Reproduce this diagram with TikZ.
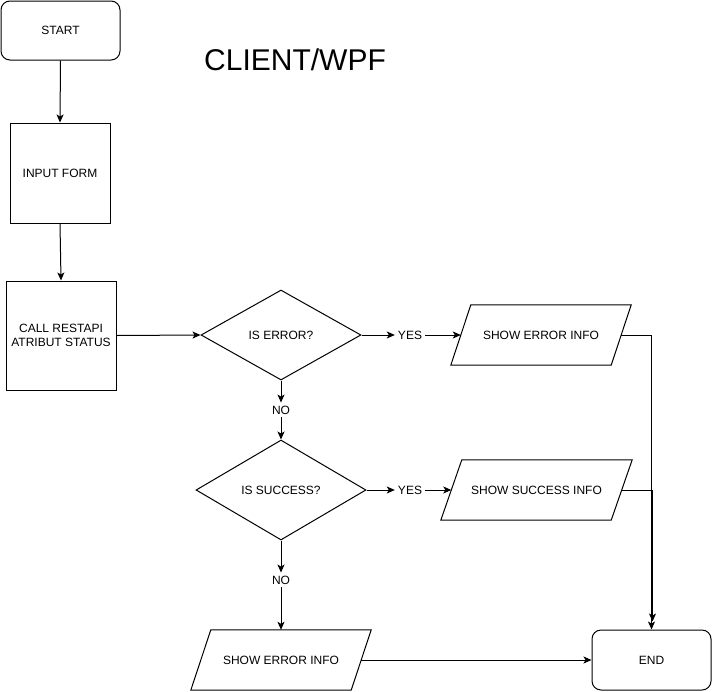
\documentclass[tikz,border=0pt]{standalone}
\usepackage{fontspec}
\setmainfont{Liberation Sans}
\usetikzlibrary{shapes.geometric,arrows.meta,calc}
\begin{document}
\begin{tikzpicture}[x=1pt,y=-1pt,
  every node/.style={font=\fontsize{12}{14}\selectfont, align=center, inner sep=0pt},
  line/.style={line width=1pt, black},
  arr/.style={line, -{Stealth[length=8pt,width=7pt,inset=2pt]}},
  term/.style={draw, line width=1pt, rounded corners=9pt, minimum width=119pt, minimum height=59pt},
  proc/.style={draw, line width=1pt},
  dec/.style={draw, line width=1pt, diamond},
  io/.style={minimum height=60pt},
  lbl/.style={inner sep=3pt}
]
\useasboundingbox (0,0) rectangle (712,691);
\fill[white] (0,0) rectangle (712,691);

\node[term] (start) at (60.5,30.5) {START};
\node[font=\fontsize{30}{34}\selectfont] (title) at (295,60) {CLIENT/WPF};
\node[proc, minimum width=100pt, minimum height=100pt] (input) at (60,173) {INPUT FORM};
\node[proc, minimum width=110pt, minimum height=109pt] (call) at (61,335.5) {CALL RESTAPI\\ATRIBUT STATUS};
\node[dec, minimum width=160pt, minimum height=90pt, aspect=1.78] (err) at (281,335) {IS ERROR?};
\node[dec, minimum width=170pt, minimum height=100pt, aspect=1.7] (suc) at (281,490) {IS SUCCESS?};

\node[lbl] (yes1) at (410,335) {YES};
\node[lbl] (yes2) at (410,490) {YES};
\node[lbl] (no1) at (281,410) {NO};
\node[lbl] (no2) at (281,580) {NO};

\node[io, minimum width=160pt] (showerr) at (541,335) {SHOW ERROR INFO};
\draw[line] ($(showerr.north west)+(10,0)$) -- ($(showerr.north east)+(10,0)$) -- ($(showerr.south east)+(-10,0)$) -- ($(showerr.south west)+(-10,0)$) -- cycle;
\node[io, minimum width=170pt] (showsuc) at (536.5,490) {SHOW SUCCESS INFO};
\draw[line] ($(showsuc.north west)+(10.5,0)$) -- ($(showsuc.north east)+(10.5,0)$) -- ($(showsuc.south east)+(-10.5,0)$) -- ($(showsuc.south west)+(-10.5,0)$) -- cycle;
\node[io, minimum width=160pt] (showerr2) at (281,660) {SHOW ERROR INFO};
\draw[line] ($(showerr2.north west)+(10,0)$) -- ($(showerr2.north east)+(10,0)$) -- ($(showerr2.south east)+(-10,0)$) -- ($(showerr2.south west)+(-10,0)$) -- cycle;

\node[term, minimum height=60pt] (end) at (651.5,660) {END};

\draw[arr] (start.south) -- (input.north);
\draw[arr] (input.south) -- (call.north);
\draw[arr] (call.east) -- (err.west);
\draw[arr] (err.east) -- (yes1.west);
\draw[arr] (yes1.east) -- (showerr.west);
\draw[arr] (err.south) -- (no1.north);
\draw[arr] (no1.south) -- (suc.north);
\draw[arr] (suc.east) -- (yes2.west);
\draw[arr] (yes2.east) -- (showsuc.west);
\draw[arr] (suc.south) -- (no2.north);
\draw[arr] (no2.south) -- (showerr2.north);
\draw[arr] (showerr2.east) -- (end.west);
\draw[arr] (showerr.east) -| (end.north);
\draw[arr] (showsuc.east) -| ($(end.north)+(1,-8)$);
\end{tikzpicture}
\end{document}
